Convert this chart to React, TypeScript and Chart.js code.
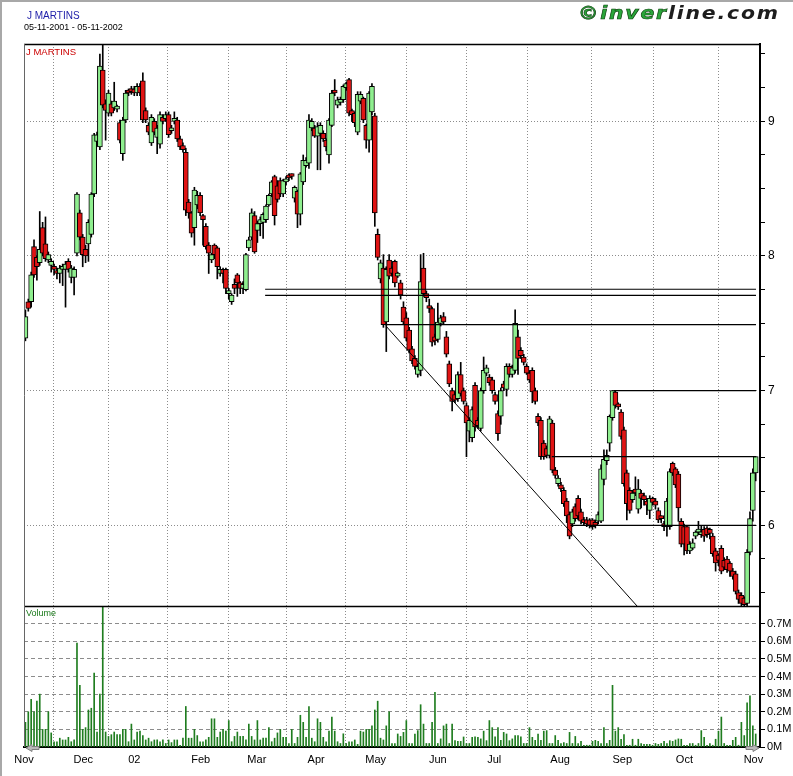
import React, { useEffect, useRef } from "react";
import { Chart, registerables } from "chart.js";

Chart.register(...registerables);

// ---------- data ----------
const monthLabels = ["Nov", "Dec", "02", "Feb", "Mar", "Apr", "May", "Jun", "Jul", "Aug", "Sep", "Oct", "Nov"];
// position (trading-day index) of each month boundary
const monthTickIdx = [-0.5, 20.2, 38.0, 61.2, 80.8, 101.5, 122.3, 144.0, 163.7, 186.7, 208.4, 230.1, 254.2];
const priceTicks = [5.5, 5.75, 6, 6.25, 6.5, 6.75, 7, 7.25, 7.5, 7.75, 8, 8.25, 8.5, 8.75, 9, 9.25, 9.5];
const volumeTicks = [0, 0.1, 0.2, 0.3, 0.4, 0.5, 0.6, 0.7];

// [open, high, low, close]
const ohlc: number[][] = [
  // Nov 2001
  [7.39, 7.60, 7.37, 7.55], [7.66, 7.68, 7.59, 7.61], [7.66, 7.88, 7.62, 7.86], [8.07, 8.12, 7.84, 7.86],
  [7.99, 8.00, 7.82, 7.92], [7.95, 8.33, 7.93, 8.05], [8.21, 8.25, 8.00, 8.02], [8.09, 8.29, 7.96, 7.98],
  [7.97, 8.03, 7.95, 8.01], [7.93, 7.98, 7.88, 7.96], [7.92, 7.94, 7.86, 7.90], [7.89, 7.91, 7.83, 7.87],
  [7.87, 7.93, 7.80, 7.91], [7.90, 7.94, 7.78, 7.92], [7.90, 7.96, 7.62, 7.94], [7.96, 7.98, 7.88, 7.90],
  [7.84, 7.93, 7.80, 7.91], [7.84, 7.92, 7.71, 7.90], [8.02, 8.47, 8.00, 8.46], [8.32, 8.34, 8.12, 8.14],
  // Dec
  [8.14, 8.16, 7.92, 8.01], [8.05, 8.08, 7.95, 8.00], [8.09, 8.27, 7.96, 8.25], [8.16, 8.47, 8.14, 8.46],
  [8.46, 8.91, 8.44, 8.90], [8.85, 8.92, 8.82, 8.90], [8.81, 9.50, 8.79, 9.41], [9.38, 9.58, 9.10, 9.12],
  [9.13, 9.16, 8.86, 9.08], [9.06, 9.23, 9.04, 9.21], [9.13, 9.15, 9.04, 9.06], [9.10, 9.29, 9.08, 9.15],
  [9.09, 9.12, 9.07, 9.11], [8.99, 9.01, 8.84, 8.86], [8.76, 9.03, 8.71, 9.01], [9.01, 9.23, 8.99, 9.21],
  [9.22, 9.24, 9.19, 9.21], [9.24, 9.26, 9.20, 9.22], [9.24, 9.26, 9.19, 9.21],
  // Jan 2002
  [9.21, 9.28, 9.19, 9.26], [9.26, 9.28, 9.19, 9.21], [9.30, 9.36, 8.99, 9.01], [9.08, 9.10, 8.99, 9.01],
  [8.97, 8.99, 8.90, 8.92], [8.84, 9.05, 8.82, 9.03], [9.00, 9.02, 8.90, 8.92], [8.88, 8.97, 8.76, 8.95],
  [8.83, 9.07, 8.80, 9.05], [9.03, 9.05, 8.98, 9.00], [9.02, 9.07, 9.00, 9.05], [9.05, 9.07, 8.88, 8.90],
  [8.93, 8.97, 8.91, 8.95], [9.00, 9.07, 8.98, 9.02], [9.01, 9.03, 8.85, 8.87], [8.87, 8.89, 8.79, 8.81],
  [8.82, 8.84, 8.77, 8.79], [8.77, 8.80, 8.30, 8.34], [8.40, 8.42, 8.28, 8.32], [8.32, 8.33, 8.14, 8.17],
  [8.21, 8.51, 8.08, 8.49], [8.38, 8.48, 8.35, 8.45],
  // Feb
  [8.45, 8.47, 8.30, 8.32], [8.30, 8.31, 8.08, 8.27], [8.22, 8.24, 8.05, 8.07], [8.08, 8.10, 7.87, 8.02],
  [7.97, 8.02, 7.95, 8.01], [8.08, 8.09, 7.98, 8.01], [8.06, 8.07, 7.83, 7.92], [7.87, 7.92, 7.85, 7.90],
  [7.90, 7.91, 7.80, 7.87], [7.90, 7.91, 7.72, 7.76], [7.72, 7.76, 7.68, 7.74], [7.66, 7.72, 7.64, 7.71],
  [7.79, 7.83, 7.72, 7.76], [7.86, 7.87, 7.70, 7.80], [7.80, 7.81, 7.72, 7.76], [7.76, 7.81, 7.72, 7.79],
  [7.75, 8.02, 7.74, 8.01], [8.06, 8.14, 8.04, 8.12], [8.14, 8.35, 8.12, 8.32], [8.30, 8.33, 8.02, 8.03],
  // Mar
  [8.19, 8.26, 8.10, 8.24], [8.24, 8.29, 8.15, 8.27], [8.25, 8.32, 8.13, 8.31], [8.27, 8.38, 8.25, 8.37],
  [8.38, 8.46, 8.37, 8.45], [8.46, 8.56, 8.44, 8.55], [8.59, 8.60, 8.23, 8.30], [8.52, 8.56, 8.40, 8.42],
  [8.56, 8.58, 8.44, 8.46], [8.46, 8.57, 8.44, 8.56], [8.55, 8.59, 8.53, 8.57], [8.60, 8.61, 8.56, 8.58],
  [8.60, 8.61, 8.57, 8.59], [8.43, 8.52, 8.40, 8.51], [8.48, 8.49, 8.21, 8.31], [8.31, 8.62, 8.23, 8.61],
  [8.55, 8.75, 8.53, 8.71], [8.67, 8.73, 8.66, 8.71], [8.69, 9.05, 8.65, 9.01], [8.95, 9.02, 8.93, 9.00],
  // Apr
  [8.95, 8.97, 8.88, 8.89], [8.89, 8.99, 8.64, 8.96], [8.91, 8.99, 8.64, 8.97], [8.91, 8.93, 8.85, 8.87],
  [8.86, 8.87, 8.78, 8.81], [8.75, 9.02, 8.69, 9.01], [8.97, 9.23, 8.96, 9.21], [9.23, 9.31, 9.19, 9.21],
  [9.12, 9.18, 9.10, 9.16], [9.14, 9.18, 9.12, 9.16], [9.16, 9.27, 9.14, 9.26], [9.25, 9.29, 9.23, 9.28],
  [9.31, 9.32, 9.04, 9.06], [9.08, 9.09, 9.00, 9.05], [9.06, 9.07, 8.96, 8.99], [8.92, 9.22, 8.90, 9.20],
  [9.15, 9.22, 9.13, 9.20], [9.17, 9.18, 8.99, 9.01], [8.97, 8.98, 8.80, 8.86], [8.86, 9.22, 8.77, 9.21],
  [9.07, 9.28, 9.05, 9.26],
  // May
  [9.04, 9.06, 8.22, 8.32], [8.16, 8.20, 7.97, 7.99], [7.83, 7.97, 7.80, 7.95], [7.91, 8.01, 7.47, 7.49],
  [7.51, 7.92, 7.29, 7.90], [7.97, 8.01, 7.83, 7.85], [7.91, 7.92, 7.85, 7.87], [7.96, 7.97, 7.77, 7.80],
  [7.85, 7.88, 7.84, 7.86], [7.80, 7.82, 7.68, 7.71], [7.62, 7.66, 7.49, 7.51], [7.54, 7.58, 7.37, 7.39],
  [7.45, 7.47, 7.28, 7.30], [7.31, 7.33, 7.20, 7.22], [7.24, 7.26, 7.16, 7.18], [7.12, 7.20, 7.10, 7.18],
  [7.15, 8.01, 7.11, 7.81], [7.91, 8.02, 7.70, 7.72], [7.72, 7.74, 7.66, 7.69], [7.63, 7.68, 7.58, 7.61],
  [7.61, 7.62, 7.33, 7.36], [7.40, 7.42, 7.34, 7.37],
  // Jun
  [7.38, 7.65, 7.36, 7.51], [7.50, 7.56, 7.48, 7.54], [7.55, 7.58, 7.49, 7.51], [7.40, 7.44, 7.25, 7.27],
  [7.20, 7.22, 7.03, 7.05], [7.00, 7.02, 6.85, 6.92], [6.97, 6.99, 6.91, 6.93], [6.94, 7.14, 6.92, 7.12],
  [7.12, 7.21, 6.96, 6.98], [7.00, 7.02, 6.90, 6.92], [6.89, 6.91, 6.51, 6.76], [6.70, 6.80, 6.62, 6.78],
  [6.65, 6.88, 6.62, 6.86], [7.04, 7.06, 6.70, 6.73], [6.78, 6.80, 6.72, 6.74], [6.72, 7.02, 6.70, 7.00],
  [7.00, 7.25, 6.98, 7.15], [7.13, 7.19, 7.11, 7.17], [7.10, 7.12, 7.04, 7.06], [7.08, 7.10, 6.98, 7.00],
  // Jul
  [6.97, 6.99, 6.90, 6.92], [6.83, 6.85, 6.63, 6.68], [6.81, 7.02, 6.75, 7.00], [7.05, 7.07, 7.00, 7.02],
  [7.01, 7.20, 6.96, 7.18], [7.18, 7.20, 7.10, 7.12], [7.12, 7.19, 7.10, 7.17], [7.15, 7.60, 7.13, 7.50],
  [7.40, 7.45, 7.12, 7.24], [7.30, 7.32, 7.24, 7.26], [7.25, 7.27, 7.19, 7.21], [7.18, 7.20, 7.12, 7.13],
  [7.13, 7.15, 7.06, 7.08], [7.15, 7.17, 6.91, 6.99], [7.00, 7.02, 6.90, 6.92], [6.81, 6.83, 6.74, 6.76],
  [6.78, 6.80, 6.49, 6.51], [6.61, 6.63, 6.49, 6.51], [6.57, 6.59, 6.50, 6.52], [6.52, 6.81, 6.50, 6.79],
  [6.76, 6.78, 6.39, 6.41], [6.41, 6.43, 6.35, 6.37], [6.31, 6.37, 6.29, 6.35],
  // Aug
  [6.30, 6.32, 6.25, 6.27], [6.26, 6.28, 6.14, 6.16], [6.18, 6.20, 6.02, 6.07], [6.08, 6.10, 5.90, 5.92],
  [6.01, 6.12, 5.99, 6.10], [6.14, 6.16, 6.03, 6.05], [6.20, 6.22, 6.04, 6.07], [6.10, 6.12, 6.01, 6.03],
  [6.04, 6.06, 6.00, 6.02], [6.04, 6.06, 5.99, 6.01], [6.04, 6.05, 5.98, 6.00], [6.04, 6.05, 5.97, 5.99],
  [6.02, 6.04, 5.98, 6.00], [6.03, 6.10, 6.01, 6.08], [6.03, 6.45, 6.02, 6.42], [6.34, 6.56, 6.30, 6.49],
  [6.48, 6.56, 6.45, 6.52], [6.61, 6.82, 6.55, 6.81], [6.80, 7.00, 6.78, 7.00], [6.99, 7.00, 6.87, 6.89],
  [6.90, 6.91, 6.86, 6.88], [6.84, 6.86, 6.64, 6.66],
  // Sep
  [6.71, 6.73, 6.29, 6.31], [6.39, 6.41, 6.04, 6.16], [6.26, 6.28, 6.09, 6.11], [6.19, 6.26, 6.17, 6.24],
  [6.27, 6.36, 6.22, 6.24], [6.12, 6.34, 6.09, 6.27], [6.24, 6.26, 6.13, 6.20], [6.22, 6.24, 6.15, 6.19],
  [6.18, 6.20, 6.08, 6.15], [6.11, 6.22, 6.05, 6.20], [6.20, 6.21, 6.15, 6.17], [6.18, 6.20, 6.12, 6.15],
  [6.11, 6.13, 6.02, 6.04], [6.06, 6.07, 6.02, 6.05], [6.01, 6.03, 5.96, 5.99], [5.99, 6.20, 5.92, 6.18],
  [5.99, 6.42, 5.97, 6.40], [6.46, 6.47, 6.37, 6.39], [6.42, 6.43, 6.28, 6.30], [6.38, 6.40, 6.03, 6.13],
  [6.03, 6.05, 5.84, 5.86],
  // Oct
  [5.99, 6.01, 5.78, 5.86], [5.99, 6.00, 5.79, 5.81], [5.81, 5.88, 5.79, 5.86], [5.83, 5.90, 5.82, 5.87],
  [5.92, 5.96, 5.90, 5.95], [5.95, 6.03, 5.93, 5.97], [5.93, 6.00, 5.91, 5.95], [5.97, 5.99, 5.88, 5.92],
  [5.98, 5.99, 5.91, 5.93], [5.97, 5.98, 5.90, 5.94], [5.92, 5.94, 5.77, 5.79], [5.81, 5.83, 5.66, 5.72],
  [5.78, 5.79, 5.70, 5.74], [5.83, 5.85, 5.64, 5.66], [5.74, 5.76, 5.67, 5.69], [5.75, 5.77, 5.65, 5.67],
  [5.72, 5.73, 5.62, 5.66], [5.66, 5.68, 5.60, 5.62], [5.64, 5.66, 5.49, 5.51], [5.50, 5.52, 5.42, 5.45],
  [5.48, 5.50, 5.40, 5.42], [5.46, 5.47, 5.40, 5.41], [5.42, 5.82, 5.40, 5.80],
  // Nov 2002
  [5.80, 6.10, 5.78, 6.05], [6.11, 6.42, 6.03, 6.39], [6.39, 6.51, 6.33, 6.51],
];

// volume in millions
const volumes: number[] = [
  0.14, 0.20, 0.27, 0.20, 0.26, 0.30, 0.10, 0.10, 0.20, 0.08,
  0.03,
  0.03, 0.05, 0.04, 0.04, 0.055, 0.03, 0.04, 0.59, 0.35, 0.10, 0.11, 0.21, 0.22, 0.42, 0.085, 0.30, 0.80, 0.085,
  0.06, 0.07, 0.085, 0.07, 0.07, 0.10, 0.10,
  0.03,
  0.13, 0.04, 0.085, 0.09, 0.065, 0.04, 0.05, 0.03, 0.04, 0.04,
  0.03,
  0.04, 0.02, 0.04, 0.025, 0.04, 0.04, 0.01, 0.05, 0.23, 0.05, 0.05, 0.10, 0.065,
  0.03,
  0.03, 0.04, 0.055, 0.16, 0.16, 0.055, 0.085, 0.10, 0.09, 0.15,
  0.03, 0.06, 0.085, 0.06, 0.06, 0.04, 0.13, 0.06, 0.04, 0.15,
  0.04, 0.05, 0.05, 0.11, 0.03, 0.05, 0.08, 0.10, 0.055, 0.055,
  0.02, 0.10, 0.02, 0.055, 0.18, 0.14, 0.055, 0.23, 0.05, 0.03,
  0.16, 0.14, 0.055, 0.03, 0.09, 0.17, 0.09, 0.03, 0.02, 0.075,
  0.02, 0.03,
  0.03,
  0.04, 0.015, 0.09, 0.085, 0.10, 0.10, 0.12, 0.21, 0.26, 0.05, 0.04, 0.12, 0.20,
  0.02, 0.02, 0.074, 0.06, 0.083, 0.15, 0.02,
  0.02,
  0.074, 0.093, 0.24, 0.13, 0.02, 0.02, 0.14, 0.31, 0.02, 0.046, 0.12, 0.13, 0.02, 0.13, 0.036, 0.032, 0.032, 0.057,
  0.02,
  0.02, 0.055, 0.057, 0.055, 0.046, 0.09, 0.036, 0.15, 0.11, 0.057, 0.11, 0.038, 0.083, 0.074, 0.036, 0.046, 0.065,
  0.065, 0.057, 0.02,
  0.02,
  0.11, 0.055, 0.038, 0.074, 0.038, 0.09, 0.093, 0.02, 0.02, 0.065, 0.038, 0.02, 0.025, 0.02, 0.083,
  0.02,
  0.06, 0.02, 0.032, 0.01, 0.01, 0.01, 0.032, 0.038, 0.032, 0.02,
  0.11, 0.02, 0.038, 0.35, 0.09, 0.11, 0.044, 0.07, 0.01, 0.01,
  0.044, 0.01, 0.044, 0.02, 0.015, 0.015, 0.015, 0.01, 0.02, 0.015,
  0.02,
  0.032, 0.02, 0.036, 0.032, 0.04, 0.046, 0.044, 0.01, 0.01, 0.02,
  0.02, 0.01, 0.02, 0.093, 0.055, 0.01, 0.02, 0.01, 0.044, 0.09,
  0.17, 0.02, 0.01, 0.01, 0.038, 0.055, 0.01, 0.14, 0.065, 0.25,
  0.29, 0.12, 0.074,
];

// drawn support / resistance levels (value, from index, to index)
const levelValues = [7.753, 7.708, 7.49, 7.0, 6.51, 6.0];
const levelFrom = [83.7, 83.7, 125.5, 205.3, 183.8, 190.3];
const levelTo = [255.1, 255.1, 255.1, 255.1, 255.1, 255.1];
// falling trend line (index, price)
const trendX = [126.1, 213.6];
const trendY = [7.475, 5.4];

const PRICE_MIN = 5.401;
const PRICE_MAX = 9.574;
const VOL_MAX = 0.8;

const FONT = "'Liberation Sans', Arial, sans-serif";
const GREEN = "#8fef8f";
const RED = "#e01414";

const framePlugin = {
  id: "frame",
  afterDatasetsDraw(chart: any) {
    const { ctx, chartArea: a, scales } = chart;
    const yv = scales.yv;
    ctx.save();
    ctx.strokeStyle = "#000";
    ctx.lineWidth = 1.5;
    ctx.beginPath();
    ctx.moveTo(a.left, a.top + 0.5);
    ctx.lineTo(a.right, a.top + 0.5);
    ctx.moveTo(a.left, Math.round(yv.top) + 0.5);
    ctx.lineTo(a.right, Math.round(yv.top) + 0.5);
    ctx.stroke();
    ctx.lineWidth = 1;
    ctx.strokeStyle = "#666";
    ctx.beginPath();
    ctx.moveTo(a.left + 0.5, a.top);
    ctx.lineTo(a.left + 0.5, a.bottom);
    ctx.stroke();
    ctx.restore();
  },
  afterDraw(chart: any) {
    const { ctx, chartArea: a } = chart;
    const y = a.bottom + 1;
    const arrow = (tipX: number, dir: number) => {
      ctx.beginPath();
      ctx.moveTo(tipX, y);
      ctx.lineTo(tipX + dir * 6, y - 3.5);
      ctx.lineTo(tipX + dir * 6, y - 1.5);
      ctx.lineTo(tipX + dir * 13, y - 1.5);
      ctx.lineTo(tipX + dir * 13, y + 1.5);
      ctx.lineTo(tipX + dir * 6, y + 1.5);
      ctx.lineTo(tipX + dir * 6, y + 3.5);
      ctx.closePath();
      ctx.fill();
      ctx.stroke();
    };
    ctx.save();
    ctx.fillStyle = "#b8b8b8";
    ctx.strokeStyle = "#808080";
    ctx.lineWidth = 1;
    arrow(a.left + 2, 1);
    arrow(a.right - 1, -1);
    ctx.restore();
  },
};

export default function App() {
  const canvasRef = useRef<HTMLCanvasElement | null>(null);

  useEffect(() => {
    if (!canvasRef.current) return;
    Chart.defaults.font.family = FONT;

    const wickData = ohlc.map((c, i) => ({ x: i, y: [c[2], c[1]] }));
    const bodyData = ohlc.map((c, i) => ({ x: i, y: [Math.min(c[0], c[3]), Math.max(c[0], c[3])] }));
    const bodyColors = ohlc.map((c) => (c[3] >= c[0] ? GREEN : RED));
    const volData = volumes.map((v, i) => ({ x: i, y: v }));

    const lineDatasets: any[] = levelValues.map((v, k) => ({
      type: "line",
      data: [
        { x: levelFrom[k], y: v },
        { x: levelTo[k], y: v },
      ],
      yAxisID: "y",
      borderColor: "#000",
      borderWidth: 1.2,
      pointRadius: 0,
      order: 1,
    }));
    lineDatasets.push({
      type: "line",
      data: trendX.map((x, k) => ({ x, y: trendY[k] })),
      yAxisID: "y",
      borderColor: "#000",
      borderWidth: 1,
      pointRadius: 0,
      order: 1,
    });

    const chart = new Chart(canvasRef.current, {
      type: "bar",
      data: {
        datasets: [
          {
            type: "bar",
            data: volData as any,
            yAxisID: "yv",
            backgroundColor: "#1f7d1f",
            barThickness: 1,
            grouped: false,
            order: 6,
          } as any,
          {
            type: "bar",
            data: wickData as any,
            yAxisID: "y",
            backgroundColor: "#000",
            barThickness: 1,
            grouped: false,
            order: 5,
          } as any,
          {
            type: "bar",
            data: bodyData as any,
            yAxisID: "y",
            backgroundColor: bodyColors,
            borderColor: "#000",
            borderWidth: 1,
            borderSkipped: false,
            barThickness: 5,
            minBarLength: 3,
            grouped: false,
            order: 4,
          } as any,
          ...lineDatasets,
        ],
      },
      options: {
        animation: false,
        responsive: false,
        devicePixelRatio: 1,
        events: [],
        layout: { padding: { left: 24, top: 44, right: 0, bottom: 0 } },
        plugins: { legend: { display: false }, tooltip: { enabled: false } },
        scales: {
          x: {
            type: "linear",
            min: -0.5,
            max: 256.5,
            offset: false,
            afterBuildTicks: (s: any) => {
              s.ticks = monthTickIdx.map((v) => ({ value: v }));
            },
            afterFit: (s: any) => {
              s.height = 29;
            },
            ticks: {
              autoSkip: false,
              maxRotation: 0,
              padding: 6,
              color: "#000",
              font: { size: 11, family: FONT },
              callback: (_v: any, i: number) => monthLabels[i],
            },
            grid: { color: "#8c8c8c", lineWidth: 1, drawTicks: false },
            border: { display: true, color: "#000", width: 2, dash: [1, 2] },
          },
          y: {
            type: "linear",
            position: "right",
            stack: "panes",
            stackWeight: 562,
            weight: 0,
            min: PRICE_MIN,
            max: PRICE_MAX,
            afterBuildTicks: (s: any) => {
              s.ticks = priceTicks.map((v) => ({ value: v }));
            },
            afterFit: (s: any) => {
              s.width = 33;
            },
            ticks: {
              autoSkip: false,
              padding: 3,
              color: "#000",
              font: { size: 12, family: FONT },
              callback: (v: any) => (Number.isInteger(v) ? String(v) : ""),
            },
            grid: {
              color: (ctx: any) => (ctx.tick && Number.isInteger(ctx.tick.value) ? "#8c8c8c" : "rgba(0,0,0,0)"),
              tickColor: "#000",
              tickLength: 5,
              tickWidth: 1,
            },
            border: { display: true, color: "#000", width: 2, dash: [1, 2] },
          },
          yv: {
            type: "linear",
            position: "right",
            stack: "panes",
            stackWeight: 141,
            weight: 1,
            min: 0,
            max: VOL_MAX,
            afterBuildTicks: (s: any) => {
              s.ticks = volumeTicks.map((v) => ({ value: v }));
            },
            afterFit: (s: any) => {
              s.width = 33;
            },
            ticks: {
              autoSkip: false,
              padding: 2,
              color: "#000",
              font: { size: 11, family: FONT },
              callback: (v: any) => (v === 0 ? "0M" : Number(v).toFixed(1) + "M"),
            },
            grid: {
              color: (ctx: any) => (ctx.tick && ctx.tick.value > 0 ? "#8c8c8c" : "rgba(0,0,0,0)"),
              tickColor: "#000",
              tickLength: 5,
              tickWidth: 1,
            },
            border: { display: true, color: "#000", width: 2, dash: [4, 3] },
          },
        },
      } as any,
      plugins: [framePlugin],
    });

    return () => chart.destroy();
  }, []);

  const abs = (extra: React.CSSProperties): React.CSSProperties => ({ position: "absolute", whiteSpace: "nowrap", fontFamily: FONT, ...extra });

  return (
    <div style={{ position: "absolute", left: 0, top: 0, width: 793, height: 776, background: "#fff", overflow: "hidden" }}>
      <canvas ref={canvasRef} width={793} height={776} style={{ position: "absolute", left: 0, top: 0, width: 793, height: 776 }} />
      <div style={{ position: "absolute", left: 0, top: 0, width: 2, height: 776, background: "#a8a8a8" }} />
      <div style={{ position: "absolute", left: 0, top: 0, width: 793, height: 2, background: "#a8a8a8" }} />
      <div style={abs({ left: 27, top: 10, fontSize: 10, color: "#1c1ca8", lineHeight: "12px" })}>J MARTINS</div>
      <div style={abs({ left: 24, top: 22, fontSize: 9, color: "#000", lineHeight: "11px" })}>05-11-2001 - 05-11-2002</div>
      <div style={abs({ left: 26, top: 46, fontSize: 9.5, color: "#cc0000", lineHeight: "11px" })}>J MARTINS</div>
      <div style={abs({ left: 26, top: 608, fontSize: 9, color: "#1a7a1a", lineHeight: "11px" })}>Volume</div>
      <div
        style={abs({
          left: 578,
          top: 3,
          fontSize: 17,
          fontWeight: "bold",
          fontStyle: "italic",
          fontFamily: "'DejaVu Sans', sans-serif",
          lineHeight: "20px",
          letterSpacing: 1.5,
          transform: "scaleX(1.2)",
          transformOrigin: "left top",
        })}
      >
        <span style={{ color: "#2aa63a", WebkitTextStroke: "0.6px #0b3d0b" }}>©inver</span>
        <span style={{ color: "#1d1d1d" }}>line.com</span>
      </div>
    </div>
  );
}
